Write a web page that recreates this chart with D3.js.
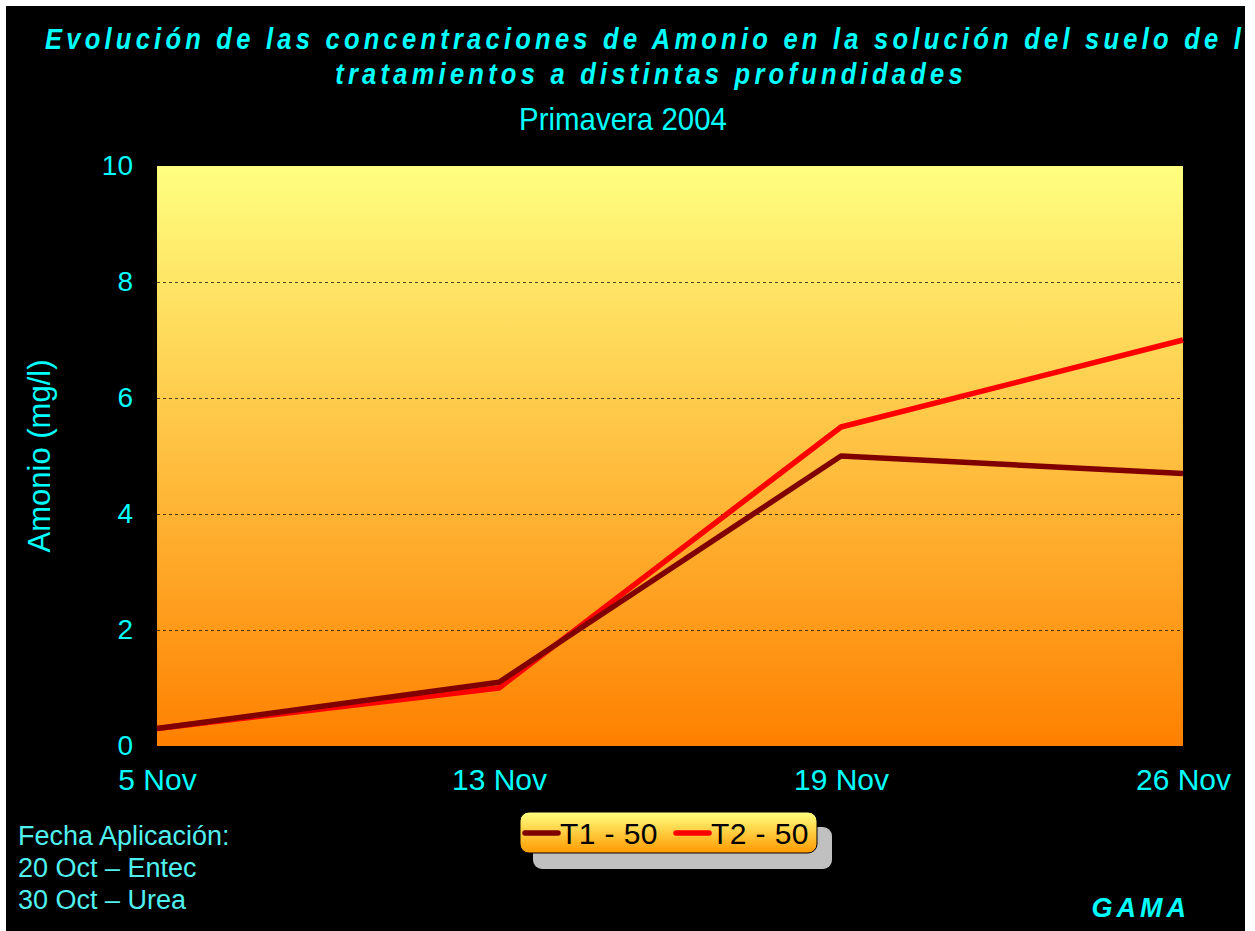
<!DOCTYPE html>
<html>
<head>
<meta charset="utf-8">
<script src="https://cdn.jsdelivr.net/npm/d3@7"></script>
<style>
  html, body { margin: 0; padding: 0; background: #fff; }
  svg { display: block; }
  text { font-family: "Liberation Sans", Arial, sans-serif; }
</style>
</head>
<body>
<svg id="chart"></svg>
<script>
var fechas = ['5 Nov', '13 Nov', '19 Nov', '26 Nov'];
var t1 = [0.3, 1.1, 5.0, 4.7];
var t2 = [0.3, 1.0, 5.5, 7.0];
var yTicks = [0, 2, 4, 6, 8, 10];
var series = [
  {name: 'T1 - 50', values: t1, color: '#800000'},
  {name: 'T2 - 50', values: t2, color: '#ff0000'}
];
var notas = ['Fecha Aplicación:', '20 Oct – Entec', '30 Oct – Urea'];

var W = 1255, H = 931;
var svg = d3.select('#chart').attr('width', W).attr('height', H);
var defs = svg.append('defs');

// black slide area, white margin top/left/right like the original
defs.append('clipPath').attr('id', 'slide')
  .append('rect').attr('x', 6).attr('y', 6).attr('width', 1239).attr('height', H - 6);
var root = svg.append('g').attr('clip-path', 'url(#slide)');
root.append('rect').attr('x', 6).attr('y', 6).attr('width', 1239).attr('height', H - 6).attr('fill', '#000');

var bg = defs.append('linearGradient').attr('id', 'bg').attr('x1', 0).attr('y1', 0).attr('x2', 0).attr('y2', 1);
bg.append('stop').attr('offset', '0%').attr('stop-color', '#ffff80');
bg.append('stop').attr('offset', '100%').attr('stop-color', '#ff8000');

var lg = defs.append('linearGradient').attr('id', 'lg').attr('x1', 0).attr('y1', 0).attr('x2', 0).attr('y2', 1);
lg.append('stop').attr('offset', '0%').attr('stop-color', '#ffff80');
lg.append('stop').attr('offset', '100%').attr('stop-color', '#ff9a00');

var x = d3.scalePoint().domain(fechas).range([157, 1183]);
var y = d3.scaleLinear().domain([0, 10]).range([746, 166]);

// titles (condensed, tall glyphs like the original)
var cyan = '#00ffff';
var sx = 0.85;
root.append('text').attr('transform', 'translate(45,49) scale(' + sx + ',1)')
  .attr('fill', cyan).attr('font-size', 30).attr('font-weight', 'bold').attr('font-style', 'italic')
  .attr('letter-spacing', 5)
  .text('Evolución de las concentraciones de Amonio en la solución del suelo de los');
root.append('text').attr('transform', 'translate(651,84) scale(' + sx + ',1)').attr('text-anchor', 'middle')
  .attr('fill', cyan).attr('font-size', 30).attr('font-weight', 'bold').attr('font-style', 'italic')
  .attr('letter-spacing', 5)
  .text('tratamientos a distintas profundidades');
root.append('text').attr('transform', 'translate(623,130) scale(0.95,1)').attr('text-anchor', 'middle')
  .attr('fill', cyan).attr('font-size', 31)
  .text('Primavera 2004');

// plot area
root.append('rect').attr('x', x.range()[0]).attr('y', y(10))
  .attr('width', x.range()[1] - x.range()[0]).attr('height', y(0) - y(10))
  .attr('fill', 'url(#bg)');

root.append('g').selectAll('line').data(yTicks.filter(function(d) { return d > 0 && d < 10; }))
  .enter().append('line')
  .attr('x1', x.range()[0]).attr('x2', x.range()[1])
  .attr('y1', function(d) { return Math.round(y(d)) + 0.5; })
  .attr('y2', function(d) { return Math.round(y(d)) + 0.5; })
  .attr('stroke', '#000').attr('stroke-opacity', 0.7).attr('stroke-width', 1)
  .attr('stroke-dasharray', '3,3');

// axes
var yAxis = d3.axisLeft(y).tickValues(yTicks).tickSize(0).tickPadding(24);
var gy = root.append('g').attr('transform', 'translate(' + x.range()[0] + ',0)').call(yAxis);
gy.select('.domain').remove();
gy.selectAll('text').attr('fill', cyan).attr('font-size', 28).attr('font-family', '"Liberation Sans", Arial, sans-serif');

var xAxis = d3.axisBottom(x).tickSize(0).tickPadding(23);
var gx = root.append('g').attr('transform', 'translate(0,' + y(0) + ')').call(xAxis);
gx.select('.domain').remove();
gx.selectAll('text').attr('fill', cyan).attr('font-size', 30).attr('font-family', '"Liberation Sans", Arial, sans-serif');

root.append('text')
  .attr('transform', 'translate(50,' + ((y(0) + y(10)) / 2) + ') rotate(-90)')
  .attr('text-anchor', 'middle').attr('fill', cyan).attr('font-size', 31)
  .text('Amonio (mg/l)');

// lines (T2 drawn below T1)
var line = d3.line().x(function(d, i) { return x(fechas[i]); }).y(function(d) { return y(d); });
root.append('g').selectAll('path').data(series.slice().reverse()).enter().append('path')
  .attr('d', function(s) { return line(s.values); })
  .attr('fill', 'none').attr('stroke', function(s) { return s.color; })
  .attr('stroke-width', 5.5).attr('stroke-linejoin', 'round');

// legend
var leg = root.append('g').attr('transform', 'translate(520,812)');
leg.append('rect').attr('x', 13).attr('y', 15).attr('width', 299).attr('height', 42).attr('rx', 9)
  .attr('fill', '#c0c0c0');
leg.append('rect').attr('x', 0).attr('y', 0).attr('width', 297).attr('height', 41).attr('rx', 9)
  .attr('fill', 'url(#lg)').attr('stroke', '#000').attr('stroke-width', 1);
var items = leg.selectAll('g.item').data(series).enter().append('g')
  .attr('transform', function(d, i) { return 'translate(' + (5 + i * 151) + ',0)'; });
items.append('line').attr('x1', 0).attr('x2', 33).attr('y1', 21).attr('y2', 21)
  .attr('stroke', function(d) { return d.color; }).attr('stroke-width', 5.5).attr('stroke-linecap', 'round');
items.append('text').attr('x', 35).attr('y', 32).attr('font-size', 30).attr('fill', '#000')
  .attr('letter-spacing', 0.4)
  .text(function(d) { return d.name; });

// notes
root.append('g').selectAll('text').data(notas).enter().append('text')
  .attr('x', 18).attr('y', function(d, i) { return 845 + i * 32; })
  .attr('fill', '#50f0f0').attr('font-size', 27)
  .text(function(d) { return d; });

root.append('text').attr('x', 1190).attr('y', 917).attr('text-anchor', 'end')
  .attr('fill', cyan).attr('font-size', 27).attr('font-weight', 'bold').attr('font-style', 'italic')
  .attr('letter-spacing', 4)
  .text('GAMA');
</script>
</body>
</html>
